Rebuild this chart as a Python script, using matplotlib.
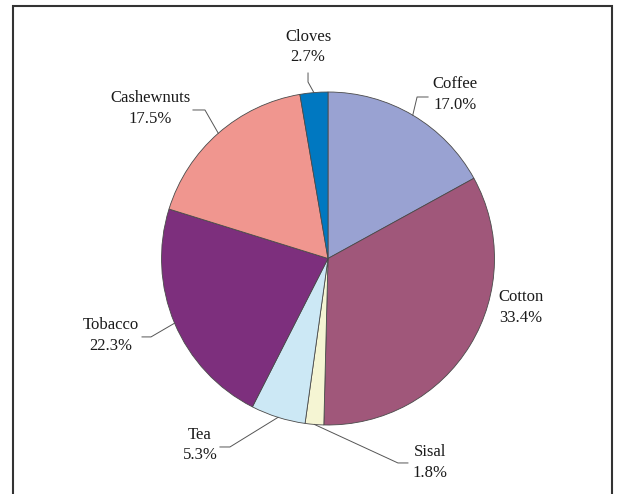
import numpy as np
import matplotlib
matplotlib.use("Agg")
import matplotlib.pyplot as plt
from matplotlib.patches import Rectangle

# crop shares, clockwise from 12 o'clock
crops = ["Coffee", "Cotton", "Sisal", "Tea", "Tobacco", "Cashewnuts", "Cloves"]
shares = [17.0, 33.4, 1.8, 5.3, 22.3, 17.5, 2.7]
colours = ["#99A2D2", "#A0577A", "#F5F5D3", "#CCE8F5", "#7D2F7D", "#F0968F", "#0078C1"]

# label centre, leader elbow, leader end (pie radius = 1)
label_xy = {
    "Coffee":     (0.763, 0.985),
    "Cotton":     (1.159, -0.294),
    "Sisal":      (0.613, -1.225),
    "Tea":        (-0.769, -1.120),
    "Tobacco":    (-1.303, -0.462),
    "Cashewnuts": (-1.069, 0.901),
    "Cloves":     (-0.120, 1.270),
}
leaders = {
    "Coffee":     [(0.535, 0.970), (0.601, 0.970)],
    "Sisal":      [(0.420, -1.228), (0.480, -1.228)],
    "Tea":        [(-0.589, -1.132), (-0.649, -1.132)],
    "Tobacco":    [(-1.063, -0.471), (-1.117, -0.471)],
    "Cashewnuts": [(-0.739, 0.892), (-0.811, 0.892)],
    "Cloves":     [(-0.120, 1.060), (-0.120, 1.114)],
}

plt.rcParams['font.family'] = ['Liberation Serif', 'DejaVu Serif']

fig = plt.figure(figsize=(6.2, 4.94), dpi=100)
ax = fig.add_axes([0, 0, 1, 1])

wedges, _ = ax.pie(shares, colors=colours, startangle=90, counterclock=False,
                   radius=1.0, center=(0, 0), frame=True,
                   wedgeprops=dict(edgecolor='#4a4a4a', linewidth=0.6))
# 166.5 px per unit, pie centre at (328, 258.5) px
ax.set_xlim(-328 / 166.5, (620 - 328) / 166.5)
ax.set_ylim(-(494 - 258.5) / 166.5, 258.5 / 166.5)
ax.set_aspect('auto')
ax.axis('off')

for w, name, val in zip(wedges, crops, shares):
    mid = np.deg2rad((w.theta1 + w.theta2) / 2)
    edge = (np.cos(mid), np.sin(mid))
    tx, ty = label_xy[name]
    ax.text(tx, ty, "%s\n%.1f%%" % (name, val), ha='center', va='center',
            fontsize=12, linespacing=1.4, color='#1a1a1a')
    if name in leaders:
        pts = [edge] + leaders[name]
        xs = [p[0] for p in pts]
        ys = [p[1] for p in pts]
        ax.plot(xs, ys, color='#555555', linewidth=0.7)

# outer frame
fig.patches.append(Rectangle((12.5 / 620, -0.05), (612 - 12.5) / 620, 1.05 - 5.5 / 494,
                             transform=fig.transFigure, fill=False,
                             edgecolor='#333333', linewidth=1.5))

fig.savefig("out.png", dpi=100)
